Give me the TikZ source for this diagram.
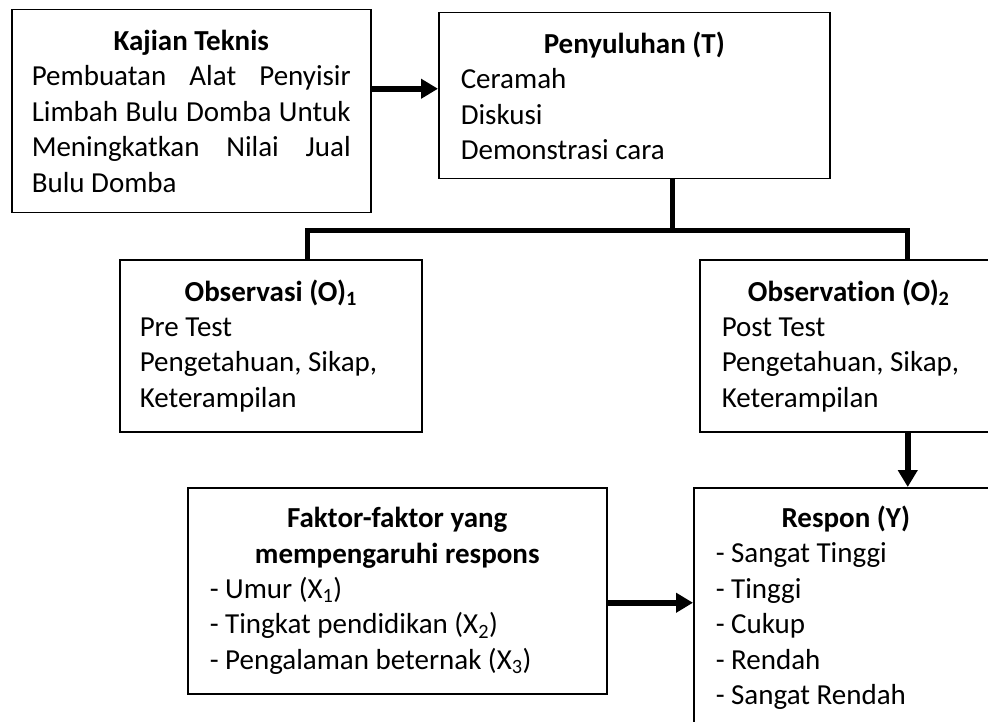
\documentclass[tikz,border=0pt]{standalone}
\usepackage{fontspec}
\setmainfont{Carlito}[Ligatures=NoCommon]
\usetikzlibrary{arrows.meta}

\begin{document}
\begin{tikzpicture}[x=1pt, y=-1pt,
	box/.style={draw, line width=1.5pt, anchor=north west, inner xsep=22pt, inner ysep=3pt, align=flush left, font=\fontsize{29}{35.4}\selectfont},
	link/.style={line width=5pt},
	arrow/.style={line width=6pt, -{Triangle[length=17pt, width=19pt]}}]
	\path (0,0) to (988,722);
	\clip (0,0) rectangle (988,722);

	\node[box, align=justify, inner xsep=20pt, text width=319pt, minimum height=203pt] (kajian) at (11,9) {{\centering\bfseries Kajian Teknis\par}Pembuatan Alat Penyisir\linebreak Limbah Bulu Domba Untuk\linebreak Meningkatkan Nilai Jual\linebreak Bulu Domba};
	\node[box, text width=347pt, minimum height=166pt] (penyuluhan) at (438,12) {{\centering\bfseries Penyuluhan (T)\par}Ceramah\\Diskusi\\Demonstrasi cara};
	\node[box, inner xsep=20pt, text width=262pt, minimum height=172pt] (obs1) at (119,259) {{\centering\bfseries Observasi (O)\textsubscript{1}\par}Pre Test\\Pengetahuan, Sikap,\\Keterampilan};
	\node[box, inner xsep=22pt, text width=254pt, minimum height=172pt] (obs2) at (699,259) {{\centering\bfseries Observation (O)\textsubscript{2}\par}Post Test\\Pengetahuan, Sikap,\\Keterampilan};
	\node[box, text width=375pt, minimum height=206pt] (faktor) at (187,487) {{\centering\bfseries Faktor-faktor yang\\mempengaruhi respons\par}- Umur (X\textsubscript{1})\\- Tingkat pendidikan (X\textsubscript{2})\\- Pengalaman beternak (X\textsubscript{3})};
	\node[box, text width=260pt, minimum height=240pt] (respon) at (693,487) {{\centering\bfseries Respon (Y)\par}- Sangat Tinggi\\- Tinggi\\- Cukup\\- Rendah\\- Sangat Rendah};

	\draw[arrow] ([yshift=7pt]penyuluhan.west -| kajian.east) -- ([yshift=7pt]penyuluhan.west);
	\draw[link] ([xshift=38.5pt]penyuluhan.south) -- ++(0,51) coordinate (fork);
	\draw[link] ([xshift=37pt]obs1.north) |- (fork) -| ([xshift=59pt]obs2.north);
	\draw[arrow] ([xshift=59pt]obs2.south) -- ([xshift=59pt]obs2.south |- respon.north);
	\draw[arrow] ([yshift=-12pt]faktor.east) -- ([yshift=-12pt]faktor.east -| respon.west);
\end{tikzpicture}
\end{document}
